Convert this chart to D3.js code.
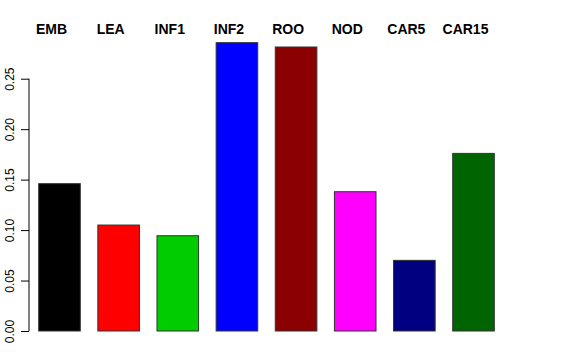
<!DOCTYPE html>
<html>
<head>
<meta charset="utf-8">
<script src="https://cdn.jsdelivr.net/npm/d3@7"></script>
<style>
  html, body { margin: 0; padding: 0; background: #fff; }
  svg { display: block; }
</style>
</head>
<body>
<svg id="chart" width="576" height="360"></svg>
<script>
const categories = ["EMB", "LEA", "INF1", "INF2", "ROO", "NOD", "CAR5", "CAR15"];
const values = [0.146, 0.105, 0.0944, 0.2857, 0.2814, 0.138, 0.070, 0.176];
const colors = ["#000000", "#ff0000", "#00cd00", "#0000ff", "#8b0000", "#ff00ff", "#000080", "#006400"];
const tickValues = [0, 0.05, 0.10, 0.15, 0.20, 0.25];
const tickLabels = ["0.00", "0.05", "0.10", "0.15", "0.20", "0.25"];

const svg = d3.select("#chart");
const font = "'Liberation Sans', Arial, Helvetica, sans-serif";

const x = d3.scaleBand()
  .domain(categories)
  .range([38.7, 494.3])
  .paddingInner(0.2966)
  .paddingOuter(0);

const y = d3.scaleLinear()
  .domain([0, 0.25])
  .range([331, 78.7]);

// bars
svg.append("g").selectAll("rect")
  .data(categories)
  .join("rect")
  .attr("x", d => x(d))
  .attr("y", (d, i) => y(values[i]))
  .attr("width", x.bandwidth())
  .attr("height", (d, i) => y(0) - y(values[i]))
  .attr("fill", (d, i) => colors[i])
  .attr("stroke", "#333")
  .attr("stroke-width", 1);

// y axis
const axis = d3.axisLeft(y)
  .tickValues(tickValues)
  .tickFormat((d, i) => tickLabels[i])
  .tickSize(8)
  .tickPadding(4);

const gAxis = svg.append("g")
  .attr("transform", "translate(29,0)")
  .call(axis);
gAxis.select(".domain")
  .attr("d", `M0,${y(0)}V${y(0.25)}`)
  .attr("stroke", "#000");
gAxis.selectAll(".tick line").attr("stroke", "#000");
gAxis.selectAll(".tick text")
  .attr("font-family", font)
  .attr("font-size", 12)
  .attr("fill", "#000")
  .attr("text-anchor", "middle")
  .attr("x", null)
  .attr("dy", null)
  .attr("transform", "translate(-15,0) rotate(-90)");

// category labels on top
svg.append("g").selectAll("text")
  .data(categories)
  .join("text")
  .attr("x", d => x(d) + x.bandwidth() / 2 - 8)
  .attr("y", 34)
  .attr("text-anchor", "middle")
  .attr("font-family", font)
  .attr("font-weight", "bold")
  .attr("font-size", 14)
  .attr("fill", "#000")
  .text(d => d);
</script>
</body>
</html>
